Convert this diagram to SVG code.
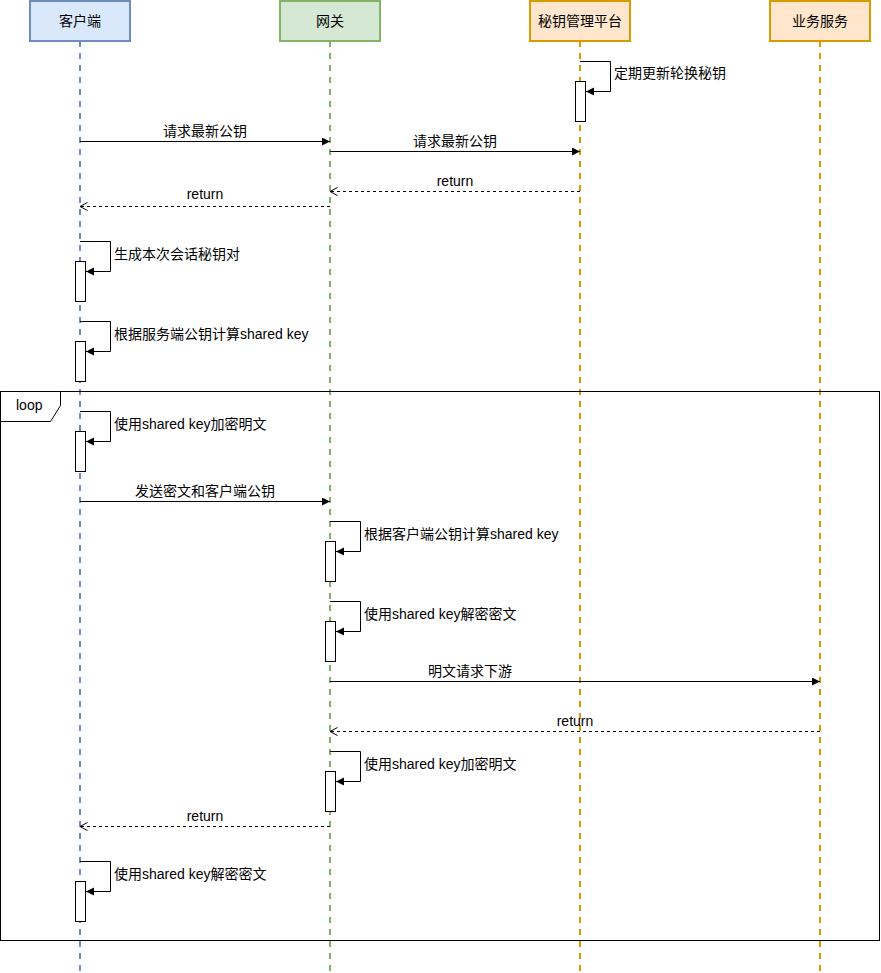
<svg xmlns="http://www.w3.org/2000/svg" width="881" height="973" viewBox="0 0 881 973">
  <style>
    text { font-family: "Liberation Sans", "Noto Sans CJK SC", sans-serif; font-size: 14px; fill: #000; }
    .mid { text-anchor: middle; }
    .life { fill: none; stroke-width: 2; stroke-dasharray: 6 6; }
    .act { fill: #fff; stroke: #000; stroke-width: 1; }
    .msg { fill: none; stroke: #000; stroke-width: 1; marker-end: url(#block); }
    .ret { fill: none; stroke: #000; stroke-width: 1; stroke-dasharray: 3 3; marker-end: url(#open); }
    .blue { fill: #dae8fc; stroke: #6c8ebf; }
    .green { fill: #d5e8d4; stroke: #82b366; }
    .orange { fill: #ffe6cc; stroke: #d79b00; }
  </style>
  <defs>
    <marker id="block" markerUnits="userSpaceOnUse" markerWidth="9" markerHeight="9" refX="8" refY="4" orient="auto">
      <path d="M0,0 L8,4 L0,8 z" fill="#000"/>
    </marker>
    <marker id="open" markerUnits="userSpaceOnUse" markerWidth="10" markerHeight="10" refX="8" refY="4.5" orient="auto">
      <path d="M0.5,0.5 L8,4.5 L0.5,8.5" fill="none" stroke="#000" stroke-width="1"/>
    </marker>
  </defs>
  <rect width="881" height="973" fill="#fff"/>

  <!-- lifelines -->
  <g id="lifelines">
    <line class="life" x1="80" y1="41" x2="80" y2="973" stroke="#6c8ebf"/>
    <line class="life" x1="330" y1="41" x2="330" y2="973" stroke="#82b366"/>
    <line class="life" x1="580" y1="41" x2="580" y2="973" stroke="#d79b00"/>
    <line class="life" x1="820" y1="41" x2="820" y2="973" stroke="#d79b00"/>
  </g>

  <!-- participants -->
  <g id="client">
    <rect class="blue" x="30" y="1" width="100" height="40" stroke-width="2"/>
    <text class="mid" x="80" y="26">客户端</text>
  </g>
  <g id="gateway">
    <rect class="green" x="280" y="1" width="100" height="40" stroke-width="2"/>
    <text class="mid" x="330" y="26">网关</text>
  </g>
  <g id="keyplatform">
    <rect class="orange" x="530" y="1" width="100" height="40" stroke-width="2"/>
    <text class="mid" x="580" y="26">秘钥管理平台</text>
  </g>
  <g id="service">
    <rect class="orange" x="770" y="1" width="100" height="40" stroke-width="2"/>
    <text class="mid" x="820" y="26">业务服务</text>
  </g>

  <!-- loop fragment -->
  <g id="loop">
    <rect x="0.5" y="391.5" width="879" height="549" fill="none" stroke="#000" stroke-width="1"/>
    <path d="M0.5,391.5 H60.5 V405.5 L50.5,421.5 H0.5 z" fill="#fff" stroke="#000" stroke-width="1"/>
    <text x="16" y="410">loop</text>
  </g>

  <!-- activation bars -->
  <g id="activations">
    <rect class="act" x="575.5" y="81.5" width="10" height="40"/>
    <rect class="act" x="75.5" y="261.5" width="10" height="40"/>
    <rect class="act" x="75.5" y="341.5" width="10" height="40"/>
    <rect class="act" x="75.5" y="431.5" width="10" height="40"/>
    <rect class="act" x="325.5" y="541.5" width="10" height="40"/>
    <rect class="act" x="325.5" y="621.5" width="10" height="40"/>
    <rect class="act" x="325.5" y="771.5" width="10" height="40"/>
    <rect class="act" x="75.5" y="881.5" width="10" height="40"/>
  </g>

  <!-- messages -->
  <g id="connectors">
    <path class="msg" d="M580,61.5 H610.5 V91.5 H586"/>
    <path class="msg" d="M80,141.5 H330"/>
    <path class="msg" d="M330,151.5 H580"/>
    <path class="ret" d="M580,191.5 H330"/>
    <path class="ret" d="M330,206.5 H80"/>
    <path class="msg" d="M80,241.5 H110.5 V271.5 H86"/>
    <path class="msg" d="M80,321.5 H110.5 V351.5 H86"/>
    <path class="msg" d="M80,411.5 H110.5 V441.5 H86"/>
    <path class="msg" d="M80,501.5 H330"/>
    <path class="msg" d="M330,521.5 H360.5 V551.5 H336"/>
    <path class="msg" d="M330,601.5 H360.5 V631.5 H336"/>
    <path class="msg" d="M330,681.5 H820"/>
    <path class="ret" d="M820,731.5 H330"/>
    <path class="msg" d="M330,751.5 H360.5 V781.5 H336"/>
    <path class="ret" d="M330,826.5 H80"/>
    <path class="msg" d="M80,861.5 H110.5 V891.5 H86"/>
  </g>

  <!-- message labels -->
  <g id="labels">
    <text x="614" y="78">定期更新轮换秘钥</text>
    <text class="mid" x="205" y="136">请求最新公钥</text>
    <text class="mid" x="455" y="146">请求最新公钥</text>
    <text class="mid" x="455" y="186">return</text>
    <text class="mid" x="205" y="199">return</text>
    <text x="114" y="259">生成本次会话秘钥对</text>
    <text x="114" y="339">根据服务端公钥计算shared key</text>
    <text x="114" y="429">使用shared key加密明文</text>
    <text class="mid" x="205" y="496">发送密文和客户端公钥</text>
    <text x="364" y="539">根据客户端公钥计算shared key</text>
    <text x="364" y="619">使用shared key解密密文</text>
    <text class="mid" x="470" y="676">明文请求下游</text>
    <text class="mid" x="575" y="726">return</text>
    <text x="364" y="769">使用shared key加密明文</text>
    <text class="mid" x="205" y="821">return</text>
    <text x="114" y="879">使用shared key解密密文</text>
  </g>
</svg>
